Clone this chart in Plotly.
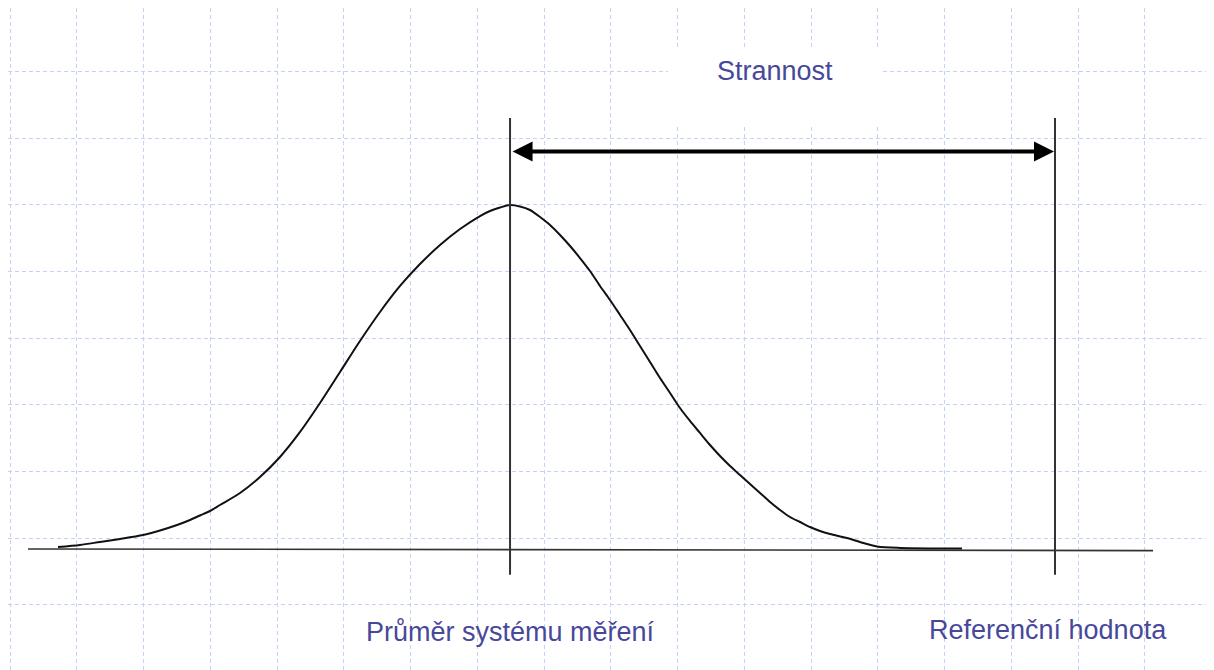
import plotly.graph_objects as go

# Coordinates in grid-cell units (one light-blue grid cell = 1 unit)
curve_x = [0.719, 1.049, 1.348, 1.648, 1.993, 2.247, 2.502, 2.697, 2.846, 2.996,
           3.146, 3.446, 3.745, 4.045, 4.345, 4.644, 4.944, 5.243, 5.543, 5.843,
           6.142, 6.442, 6.742, 7.041, 7.191, 7.341, 7.491,
           7.640, 7.790, 7.940, 8.090, 8.240, 8.390, 8.539, 8.689, 8.839, 8.989,
           9.139, 9.288, 9.438, 9.588, 9.738, 9.888, 10.037, 10.187, 10.337, 10.487,
           10.637, 10.787, 10.936, 11.086, 11.236, 11.386, 11.536, 11.685, 11.835,
           11.985, 12.135, 12.285, 12.539, 12.734, 12.989, 13.333, 14.262]
curve_y = [-0.130, -0.100, -0.055, -0.010, 0.049, 0.117, 0.199, 0.274, 0.342, 0.409,
           0.499, 0.679, 0.919, 1.219, 1.594, 2.028, 2.493, 2.958, 3.393, 3.783,
           4.112, 4.397, 4.637, 4.832, 4.907, 4.960, 4.997,
           4.975, 4.922, 4.817, 4.697, 4.547, 4.382, 4.202, 4.007, 3.783, 3.573,
           3.348, 3.123, 2.883, 2.643, 2.403, 2.178, 1.953, 1.759, 1.579, 1.399,
           1.234, 1.084, 0.949, 0.814, 0.679, 0.544, 0.424, 0.319, 0.244,
           0.169, 0.109, 0.064, 0.004, -0.055, -0.123, -0.145, -0.153]

baseline_x = [0.270, 17.124]
baseline_y = [-0.160, -0.185]

mean_x = 7.491          # Průměr systému měření
reference_x = 15.655    # Referenční hodnota
vline_y = [6.30, -0.545]
bias_arrow_y = 5.799

labels = ["Strannost", "Průměr systému měření", "Referenční hodnota"]
label_x = [11.461, 7.491, 15.551]
label_y = [7.0, -1.40, -1.375]

label_box_x = [9.858, 13.064]
label_box_y = [6.168, 7.323]

text_color = "#48489a"
grid_color = "#c6d1f7"

fig = go.Figure()

fig.add_trace(go.Scatter(x=baseline_x, y=baseline_y, mode="lines",
                         line=dict(color="#333333", width=1.6), hoverinfo="skip"))
fig.add_trace(go.Scatter(x=curve_x, y=curve_y, mode="lines",
                         line=dict(color="#111111", width=2, shape="spline", smoothing=0.8),
                         hoverinfo="skip"))
for vx in [mean_x, reference_x]:
    fig.add_trace(go.Scatter(x=[vx, vx], y=vline_y, mode="lines",
                             line=dict(color="#333333", width=2), hoverinfo="skip"))

fig.add_shape(type="rect", xref="x", yref="y",
              x0=label_box_x[0], x1=label_box_x[1], y0=label_box_y[0], y1=label_box_y[1],
              fillcolor="white", line=dict(width=0), layer="between")

fig.add_annotation(x=reference_x - 0.015, y=bias_arrow_y, ax=mean_x + 0.015, ay=bias_arrow_y,
                   xref="x", yref="y", axref="x", ayref="y", text="",
                   showarrow=True, arrowside="end+start", arrowhead=2, startarrowhead=2,
                   arrowsize=1, startarrowsize=1, arrowwidth=4, arrowcolor="black")

for t, lx, ly in zip(labels, label_x, label_y):
    fig.add_annotation(x=lx, y=ly, xref="x", yref="y", text=t, showarrow=False,
                       font=dict(family="Liberation Sans, Arial", size=27, color=text_color),
                       xanchor="center", yanchor="middle")

# The page body has an 8px margin, so the figure is sized to fit the window exactly
fig.update_layout(
    width=1206, height=662,
    margin=dict(l=0, r=0, t=0, b=0),
    paper_bgcolor="white", plot_bgcolor="white",
    showlegend=False,
    xaxis=dict(range=[-0.030, 18.037], tick0=0, dtick=1, showgrid=True,
               gridcolor=grid_color, gridwidth=1, griddash="4px,3px",
               zeroline=False, showticklabels=False, ticks="", showline=False,
               fixedrange=True),
    yaxis=dict(range=[-1.975, 7.951], tick0=0, dtick=1, showgrid=True,
               gridcolor=grid_color, gridwidth=1, griddash="4px,3px",
               zeroline=False, showticklabels=False, ticks="", showline=False,
               fixedrange=True),
)

fig.write_html("out.html", config={"displayModeBar": False})
